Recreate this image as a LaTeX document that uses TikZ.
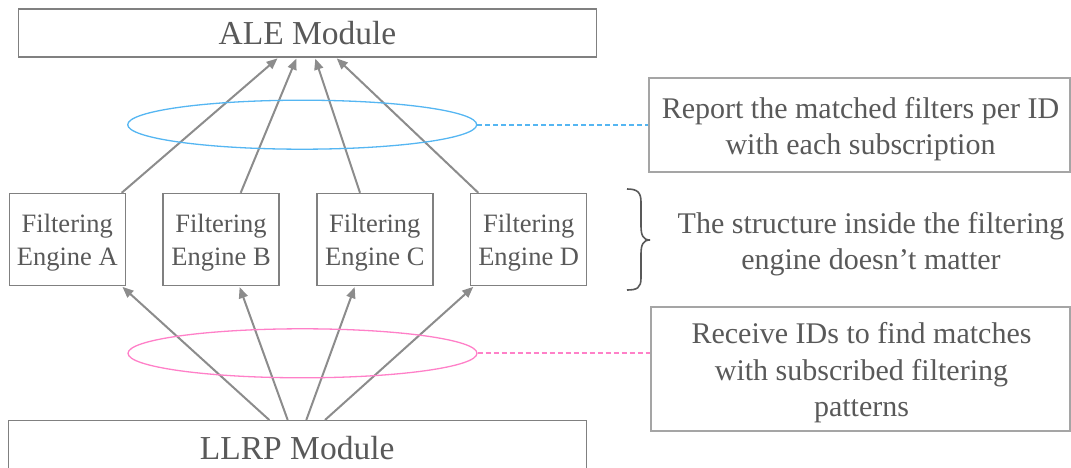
\documentclass[tikz,border=0pt]{standalone}
\usepackage{fontspec}
\setmainfont{Liberation Serif}
\usetikzlibrary{arrows.meta,shapes.geometric,calc}
\definecolor{txt}{RGB}{89,89,89}
\definecolor{frame}{RGB}{128,128,128}
\definecolor{lightframe}{RGB}{165,165,165}
\definecolor{arrowc}{RGB}{140,140,140}
\definecolor{skyblue}{RGB}{85,182,242}
\definecolor{rosepink}{RGB}{255,128,200}
% extra height on a first line, to sit two-line labels a little lower
\newcommand\toplift{\rule{0pt}{25pt}}
\tikzset{
  module/.style={draw=frame, line width=1.4pt, text=txt, inner sep=0pt,
    minimum width=578, font=\fontsize{33.5}{36}\selectfont},
  engine/.style={draw=frame, line width=1.4pt, text=txt, inner sep=0pt,
    align=center, minimum width=116, minimum height=92,
    font=\fontsize{26.5}{32.5}\selectfont},
  note/.style={draw=lightframe, line width=1.4pt, inner sep=0pt},
  notetext/.style={text=txt, align=center, inner sep=0pt,
    font=\fontsize{30}{36.5}\selectfont},
  flow/.style={draw=arrowc, line width=2pt,
    -{Triangle[length=11pt,width=9pt]}, shorten >=1pt},
  ring/.style={ellipse, draw, line width=1.3pt, minimum width=349,
    minimum height=49, inner sep=0pt},
  link/.style={line width=2.2pt, dash pattern=on 5pt off 3pt},
}
\begin{document}
\begin{tikzpicture}[x=1pt,y=-1pt]
\useasboundingbox (0,0) rectangle (1071,468);

% modules
\node[module, minimum height=48] (ale) at (307.5,33) {ALE Module};
\node[module, minimum height=54] (llrp) at (297.2,447.7) {LLRP Module};

% filtering engines
\node[engine] (fa) at (67.3,239.5) {\toplift Filtering\\Engine A};
\node[engine] (fb) at (221,239.5) {\toplift Filtering\\Engine B};
\node[engine] (fc) at (374.8,239.5) {\toplift Filtering\\Engine C};
\node[engine] (fd) at (528.7,239.5) {\toplift Filtering\\Engine D};

% engines report to ALE
\draw[flow] ([xshift=54.4pt]fa.north) -- ([xshift=-29.2pt]ale.south);
\draw[flow] ([xshift=19.7pt]fb.north) -- ([xshift=-10.8pt]ale.south);
\draw[flow] ([xshift=-14.8pt]fc.north) -- ([xshift=7.5pt]ale.south);
\draw[flow] ([xshift=-50.4pt]fd.north) -- ([xshift=28.5pt]ale.south);

% LLRP feeds the engines
\draw[flow] ([xshift=-27.9pt]llrp.north) -- ([xshift=54.4pt]fa.south);
\draw[flow] ([xshift=-9.5pt]llrp.north) -- ([xshift=18.3pt]fb.south);
\draw[flow] ([xshift=9.1pt]llrp.north) -- ([xshift=-19.8pt]fc.south);
\draw[flow] ([xshift=27.8pt]llrp.north) -- ([xshift=-54.7pt]fd.south);

% groupings
\node[ring, draw=skyblue] (up) at (302.2,124.7) {};
\node[ring, draw=rosepink] (down) at (302.5,353.3) {};

% note boxes and their texts
\node[note, minimum width=421, minimum height=94] (rep) at (859.5,125) {};
\node[notetext] (reptext) at ([xshift=1pt,yshift=-4pt]rep.center)
  {Report the matched filters per ID\\with each subscription};
\node[note, minimum width=419, minimum height=124] (rec) at (860.5,369) {};
\node[notetext] (rectext) at ([xshift=1pt,yshift=-4pt]rec.center)
  {Receive IDs to find matches\\with subscribed filtering\\patterns};
\node[notetext] (struct) at (871,244)
  {The structure inside the filtering\\engine doesn’t matter};

\draw[link, skyblue] (up.east) -- (up.east -| rep.west);
\draw[link, rosepink] (down.east) -- (down.east -| rec.west);

% brace beside the engines
\coordinate (btop) at (627,189);
\coordinate (btip) at (650,240);
\coordinate (bbot) at (627,290);
\draw[txt, line width=1.6pt]
  (btop) .. controls (637,189) and (641,192) .. (641,202)
  -- (641,226) .. controls (641,235) and (643,240) .. (btip)
  .. controls (643,240) and (641,245) .. (641,254)
  -- (641,278) .. controls (641,288) and (637,290) .. (bbot);
\end{tikzpicture}
\end{document}
